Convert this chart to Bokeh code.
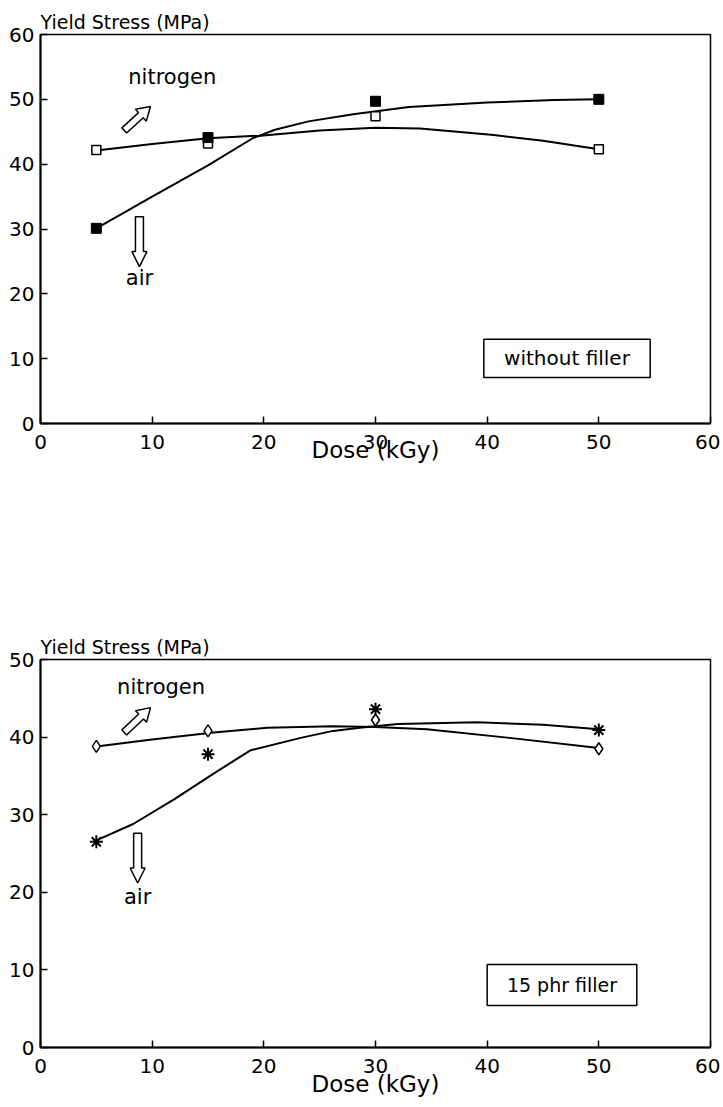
import math
from bokeh.plotting import figure
from bokeh.layouts import column
from bokeh.models import Range1d, FixedTicker, Label, BoxAnnotation
from bokeh.embed import file_html
from bokeh.resources import INLINE

FONT = "DejaVu Sans"

# ---------------- data ----------------
dose = [5, 15, 30, 50]
x_ticks = [0, 10, 20, 30, 40, 50, 60]

# top panel: without filler
top_y_ticks = [0, 10, 20, 30, 40, 50, 60]
top_nitrogen = [42.2, 43.2, 47.4, 42.3]
top_air = [30.1, 44.1, 49.7, 50.0]
top_nitrogen_fit_x = [5, 10, 15, 19.7, 25, 30, 34, 40.6, 45, 50]
top_nitrogen_fit_y = [42.1, 43.1, 44.0, 44.4, 45.2, 45.6, 45.5, 44.5, 43.6, 42.3]
top_air_fit_x = [5, 10, 15, 19, 21, 24, 28, 33, 40, 46, 50]
top_air_fit_y = [30.1, 35.0, 39.8, 44.0, 45.3, 46.6, 47.7, 48.8, 49.5, 49.9, 50.0]

# bottom panel: 15 phr filler
bot_y_ticks = [0, 10, 20, 30, 40, 50]
bot_nitrogen = [38.8, 40.8, 42.2, 38.5]
bot_air = [26.5, 37.8, 43.6, 40.9]
bot_nitrogen_fit_x = [5, 10, 15.5, 20.3, 26.2, 30, 34.6, 42, 50]
bot_nitrogen_fit_y = [38.8, 39.7, 40.6, 41.2, 41.4, 41.3, 41.0, 39.9, 38.6]
bot_air_fit_x = [5, 8.3, 12, 15.5, 18.8, 23.3, 26.2, 28.6, 32, 39.1, 45, 50]
bot_air_fit_y = [26.7, 28.8, 32.0, 35.3, 38.3, 39.9, 40.8, 41.2, 41.7, 41.9, 41.6, 41.0]

y_title = "Yield Stress (MPa)"
x_title = "Dose (kGy)"

FRAME_W = 670
FRAME_H = 389


def hollow_arrow(p, tail, tip, sx, sy, shaft_w, head_w, head_len):
    tx, ty = tail[0] * sx, tail[1] * sy
    hx, hy = tip[0] * sx, tip[1] * sy
    dx, dy = hx - tx, hy - ty
    L = math.hypot(dx, dy)
    ux, uy = dx / L, dy / L
    nx, ny = -uy, ux
    bx, by = hx - ux * head_len, hy - uy * head_len
    s, h = shaft_w / 2, head_w / 2
    pts = [
        (tx + nx * s, ty + ny * s),
        (bx + nx * s, by + ny * s),
        (bx + nx * h, by + ny * h),
        (hx, hy),
        (bx - nx * h, by - ny * h),
        (bx - nx * s, by - ny * s),
        (tx - nx * s, ty - ny * s),
    ]
    xs = [q[0] / sx for q in pts]
    ys = [q[1] / sy for q in pts]
    p.patch(xs, ys, fill_color="white", line_color="black", line_width=1.5)


def make_panel(height, top_border, bottom_border, ymax, yticks, title_standoff, xlabel_standoff):
    p = figure(width=720, height=height, output_backend="svg", toolbar_location=None,
               x_range=Range1d(0, 60), y_range=Range1d(0, ymax),
               min_border_left=40, min_border_right=10,
               min_border_top=top_border, min_border_bottom=bottom_border)
    p.grid.visible = False
    p.outline_line_color = "black"
    p.outline_line_width = 1.5
    p.background_fill_color = "white"
    p.border_fill_color = "white"
    for ax in (p.xaxis[0], p.yaxis[0]):
        ax.axis_line_width = 2
        ax.major_tick_in = 7
        ax.major_tick_out = 0
        ax.major_tick_line_width = 1.5
        ax.minor_tick_line_color = None
        ax.major_label_text_font = FONT
        ax.major_label_text_font_size = "20px"
        ax.major_label_text_color = "black"
    p.xaxis.ticker = FixedTicker(ticks=x_ticks)
    p.yaxis.ticker = FixedTicker(ticks=yticks)
    p.xaxis.major_label_standoff = 11
    p.yaxis.major_label_standoff = 6
    # y-axis title drawn horizontally above the frame
    p.title.text = y_title
    p.title.align = "left"
    p.title.text_font = FONT
    p.title.text_font_size = "19px"
    p.title.text_font_style = "normal"
    p.title.text_color = "black"
    p.title.standoff = title_standoff
    # x-axis title
    p.xaxis.axis_label = x_title
    p.xaxis.axis_label_text_font = FONT
    p.xaxis.axis_label_text_font_size = "23px"
    p.xaxis.axis_label_text_font_style = "normal"
    p.xaxis.axis_label_text_color = "black"
    p.xaxis.axis_label_standoff = xlabel_standoff
    return p


def text(p, x, y, s, size, align="center", baseline="middle"):
    p.add_layout(Label(x=x, y=y, text=s, text_font=FONT, text_font_size=size,
                       text_align=align, text_baseline=baseline, text_color="black"))


# ---------------- top panel ----------------
p1 = make_panel(470, 34, 47, 60, top_y_ticks, 4, -15)
sx1, sy1 = FRAME_W / 60, FRAME_H / 60
p1.line(top_nitrogen_fit_x, top_nitrogen_fit_y, line_color="black", line_width=2)
p1.line(top_air_fit_x, top_air_fit_y, line_color="black", line_width=2)
p1.scatter(dose, top_nitrogen, marker="square", size=9, fill_color="white",
           line_color="black", line_width=1.5)
p1.scatter(dose, top_air, marker="square", size=10, fill_color="black",
           line_color="black", line_width=1)
hollow_arrow(p1, (7.5, 45.2), (9.85, 48.9), sx1, sy1, 7, 16, 13)
hollow_arrow(p1, (8.86, 31.9), (8.86, 24.2), sx1, sy1, 8, 15, 15)
text(p1, 11.8, 53.5, "nitrogen", "21px")
text(p1, 8.86, 22.5, "air", "21px")
p1.add_layout(BoxAnnotation(left=39.7, right=54.6, bottom=7.1, top=13.0,
                            fill_color="white", fill_alpha=1, line_color="black",
                            line_alpha=1, line_width=1.5))
text(p1, 47.15, 10.05, "without filler", "20px")

# ---------------- bottom panel ----------------
p2 = make_panel(629, 189, 51, 50, bot_y_ticks, 4, -5)
sx2, sy2 = FRAME_W / 60, FRAME_H / 50
p2.line(bot_nitrogen_fit_x, bot_nitrogen_fit_y, line_color="black", line_width=2)
p2.line(bot_air_fit_x, bot_air_fit_y, line_color="black", line_width=2)
p2.scatter(dose, bot_nitrogen, marker="diamond", size=12, fill_color="white",
           line_color="black", line_width=1.5)
p2.scatter(dose, bot_air, marker="asterisk", size=13, line_color="black", line_width=2)
hollow_arrow(p2, (7.5, 40.6), (9.85, 43.8), sx2, sy2, 7, 16, 13)
hollow_arrow(p2, (8.7, 27.6), (8.7, 21.2), sx2, sy2, 8, 15, 15)
text(p2, 10.8, 46.4, "nitrogen", "21px")
text(p2, 8.7, 19.4, "air", "21px")
p2.add_layout(BoxAnnotation(left=40.0, right=53.4, bottom=5.4, top=10.7,
                            fill_color="white", fill_alpha=1, line_color="black",
                            line_alpha=1, line_width=1.5))
text(p2, 46.7, 8.05, "15 phr filler", "19px")

layout = column(p1, p2, spacing=0)
open("out.html", "w").write(file_html(layout, INLINE))
